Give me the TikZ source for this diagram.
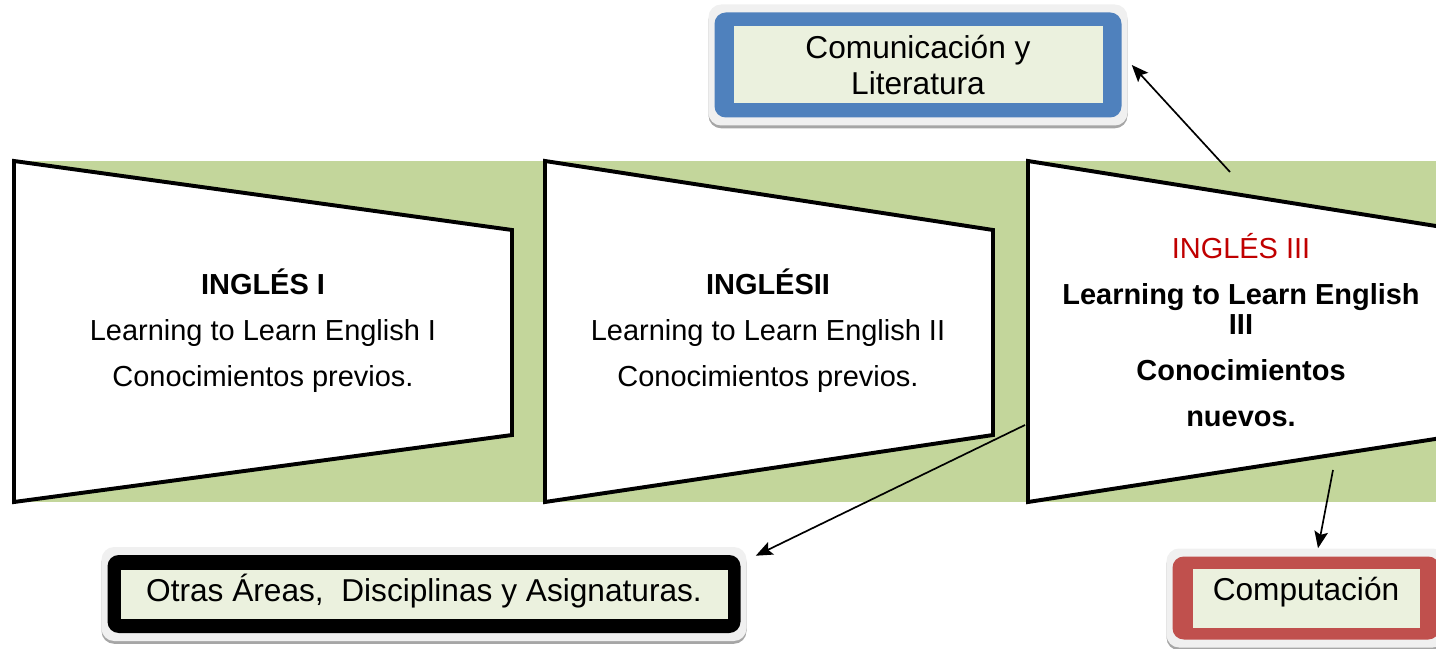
\documentclass[tikz,border=0pt]{standalone}
\usepackage{fontspec}
\setmainfont{Liberation Sans}
\usepackage{xcolor}
\usetikzlibrary{arrows.meta,shadows}
\definecolor{band}{HTML}{C3D69B}
\definecolor{pale}{HTML}{EBF1DE}
\definecolor{rimblue}{HTML}{4F81BD}
\definecolor{rimred}{HTML}{C0504D}
\definecolor{titlered}{HTML}{C00000}
\tikzset{
    panel/.style={draw=black,line width=2.8pt,fill=white,line join=miter},
    paneltext/.style={align=center,font=\fontsize{20.6}{32.6}\selectfont},
    plate/.style={
        rectangle,
        rounded corners=9pt,
        fill=black!6,
        inner sep=0pt,
        drop shadow={shadow xshift=0pt,shadow yshift=-2pt,fill=black!35,opacity=1}
    },
    rim/.style={rectangle,rounded corners=8pt,inner sep=0pt},
    tagtext/.style={
        rectangle,
        fill=pale,
        inner sep=0pt,
        align=center,
        font=\fontsize{22.5}{25.5}\selectfont
    },
    arr/.style={-{Stealth[length=4.2mm,width=3.4mm,inset=0.8mm]},line width=1.2pt}
}
\newcommand{\panel}[3] {
    \draw[panel] ({#1},161) -- ({#1+#2},230) -- ({#1+#2},435) -- ({#1},502) -- cycle;
}
\newcommand{\tagbox}[8] {
    \node[plate,minimum width={(#3+12)*0.025cm},minimum height={(#4+16)*0.025cm}] (#1) at (#2) {};
    \node[rim,fill=#7,minimum width={#3*0.025cm},minimum height={#4*0.025cm}] at (#2) {};
    \node[tagtext,minimum width={#5*0.025cm},minimum height={#6*0.025cm}] (#1-in) at (#2) {#8};
}

\begin{document}
\begin{tikzpicture}[x=0.025cm,y=-0.025cm]
        \useasboundingbox (0,0) rectangle (1436,649);
        \clip (0,0) rectangle (1436,649);
        \fill[band] (14,161) rectangle (1440,502);
        \panel{14}{498}{}
        \panel{545}{448}{}
        \panel{1028}{433}{}
        \node[paneltext] (ingles1) at (263,331)
            {\textbf{INGLÉS I}\\Learning to Learn English I\\Conocimientos previos.};
        \node[paneltext] (ingles2) at (768,331)
            {\textbf{INGLÉSII}\\Learning to Learn English II\\Conocimientos previos.};
        \node[paneltext,font=\fontsize{20.6}{32.6}\selectfont\bfseries] (ingles3) at (1241,330)
            {\textcolor{titlered}{\mdseries INGLÉS III}\\Learning to Learn English\\[-10.6pt]III\\Conocimientos\\nuevos.};
        \tagbox{comu}{918,65}{407}{105}{369}{77}{rimblue}{Comunicación y\\Literatura}
        \tagbox{otras}{424,594}{633}{78}{607}{49}{black}{\raisebox{8.6pt}{Otras Áreas,\ \ Disciplinas y Asignaturas.}}
        \tagbox{comp}{1306,598}{267}{83}{227}{59}{rimred}{\raisebox{13.5pt}{Computación}}
        \coordinate (from3up) at (1230,172);
        \coordinate (from3left) at (1025,425);
        \coordinate (from3down) at (1333,470);
        \draw[arr] (from3up) -- ([xshift=0.1cm]comu.east);
        \draw[arr] (from3left) -- ([shift={(9,9)}]otras.north east);
        \draw[arr] (from3down) -- ([xshift=0.3cm]comp.north);
    \end{tikzpicture}
\end{document}
